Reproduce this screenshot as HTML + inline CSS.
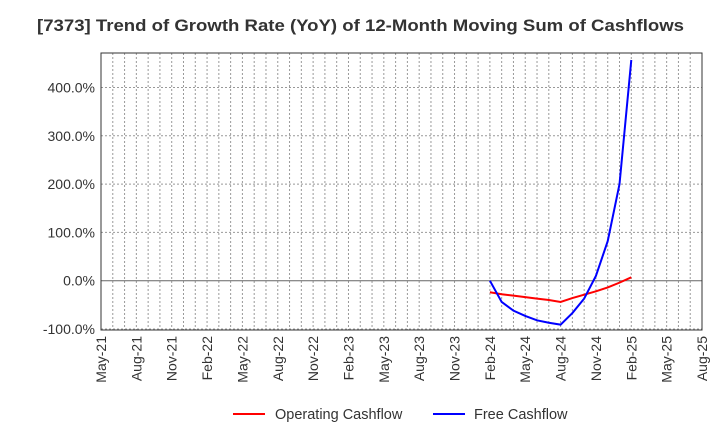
<!DOCTYPE html>
<html><head><meta charset="utf-8"><style>
body{margin:0;background:#fff;font-family:"Liberation Sans",sans-serif}
</style></head><body>
<svg width="720" height="440" xmlns="http://www.w3.org/2000/svg">
<text x="37" y="31" font-size="17" font-weight="bold" fill="#333" textLength="647" lengthAdjust="spacingAndGlyphs">[7373]  Trend of Growth Rate (YoY) of 12-Month Moving Sum of Cashflows</text>
<g id="grid"></g>
<g id="axes"></g>
<g id="series"></g>
<g>
<line x1="233" y1="414" x2="265" y2="414" stroke="#ff0000" stroke-width="2"/>
<text x="275" y="419" font-size="14.5" fill="#333">Operating Cashflow</text>
<line x1="433" y1="414" x2="465" y2="414" stroke="#0000ff" stroke-width="2"/>
<text x="474" y="419" font-size="14.5" fill="#333">Free Cashflow</text>
</g>
</svg>
<script>
const xLabels=["May-21","Aug-21","Nov-21","Feb-22","May-22","Aug-22","Nov-22","Feb-23","May-23","Aug-23","Nov-23","Feb-24","May-24","Aug-24","Nov-24","Feb-25","May-25","Aug-25"];
const yTicks=[-100,0,100,200,300,400];
const seriesStart=33; // months after May-21 (Feb-24)
const operating=[-24,-28,-31,-34,-37,-40,-44,-36,-29,-22,-14,-4,7];
const free=[0,-44,-62,-73,-82,-87,-91,-67,-37,10,82,200,457];
const L=101,R=702,T=53,B=330,nMonths=51;
const xs=m=>L+(R-L)*m/nMonths;
const ys=v=>280.7-v*0.483;
const NS="http://www.w3.org/2000/svg";
function mk(tag,attrs,parent){const e=document.createElementNS(NS,tag);for(const k in attrs)e.setAttribute(k,attrs[k]);document.getElementById(parent).appendChild(e);return e;}
for(let m=1;m<nMonths;m++){const l=mk("line",{x1:xs(m),x2:xs(m),y1:T,y2:B,stroke:"#999","stroke-dasharray":"2,2","stroke-width":1},"grid");

}
yTicks.forEach(v=>{const y=ys(v);const l=mk("line",{x1:L,x2:R,y1:y,y2:y,stroke:v===0?"#666":"#999","stroke-dasharray":v===0?"":"2,2","stroke-width":1},"grid");


const t=mk("text",{x:L-6,y:y+5,"text-anchor":"end","font-size":14,fill:"#333"},"axes");t.textContent=v.toFixed(1)+"%";

});
const fr=mk("rect",{x:L,y:T,width:R-L,height:B-T,fill:"none",stroke:"#333","stroke-width":1},"axes");


xLabels.forEach((s,i)=>{const x=xs(i*3);const t=mk("text",{x:x+5,y:B+6,"text-anchor":"end","font-size":14,fill:"#333",transform:`rotate(-90 ${x+5} ${B+6})`},"axes");t.textContent=s;

});
function line(arr,color,name){const p=mk("polyline",{points:arr.map((v,i)=>xs(seriesStart+i)+","+ys(v)).join(" "),fill:"none",stroke:color,"stroke-width":2},"series");

}
line(operating,"#ff0000","operating-cashflow-line");
line(free,"#0000ff","free-cashflow-line");
</script>
</body></html>
